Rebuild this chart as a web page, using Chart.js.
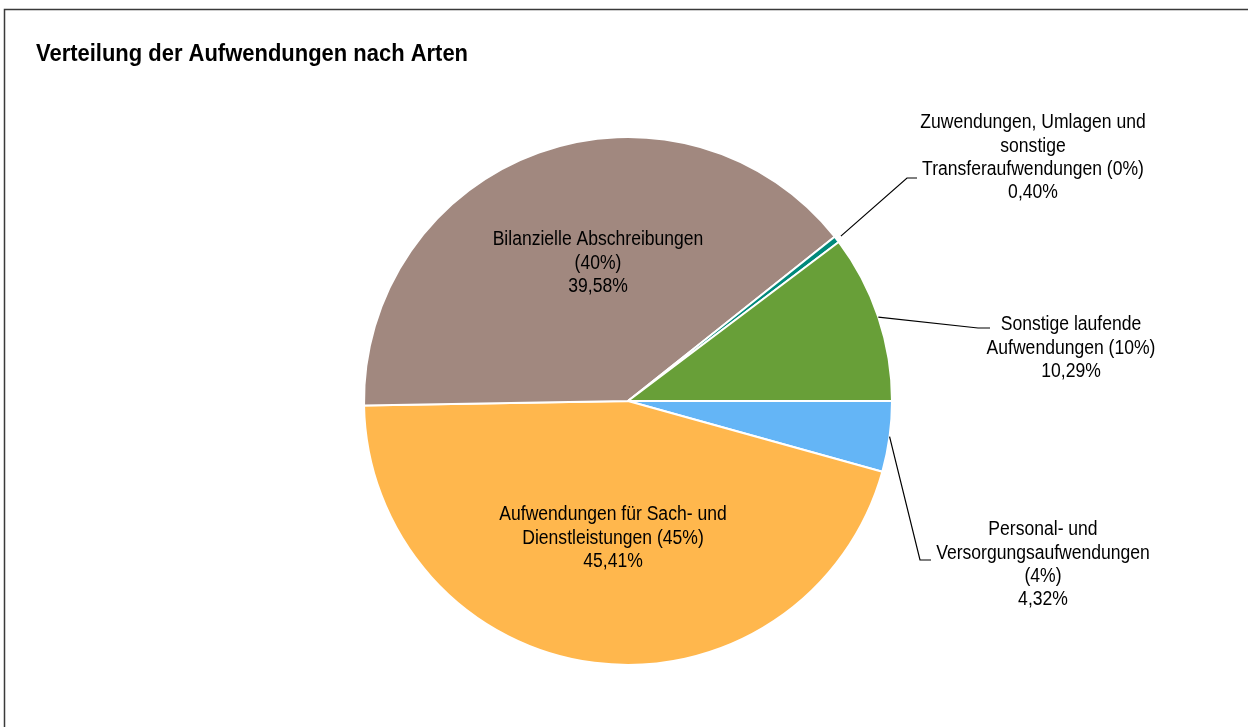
<!DOCTYPE html>
<html>
<head>
<meta charset="utf-8">
<script src="https://cdn.jsdelivr.net/npm/chart.js@4/dist/chart.umd.min.js"></script>
<style>
  html, body { margin: 0; padding: 0; background: #fff; }
  #wrap { position: relative; width: 1248px; height: 727px; }
</style>
</head>
<body>
<div id="wrap"><canvas id="aufwand"></canvas></div>
<script>
// Aufwandsarten, im Uhrzeigersinn ab 3 Uhr
var categories = [
  'Personal- und Versorgungsaufwendungen',
  'Aufwendungen für Sach- und Dienstleistungen',
  'Bilanzielle Abschreibungen',
  'Zuwendungen, Umlagen und sonstige Transferaufwendungen',
  'Sonstige laufende Aufwendungen'
];
var shares = [4.32, 45.41, 39.58, 0.40, 10.29];
var colors = ['#64B5F6', '#FFB74D', '#A1887F', '#00897B', '#689F38'];

// Beschriftungen: Zeilen je Segment, wie im Bericht umbrochen
var labelLines = [
  ['Personal- und', 'Versorgungsaufwendungen', '(4%)'],
  ['Aufwendungen für Sach- und', 'Dienstleistungen (45%)'],
  ['Bilanzielle Abschreibungen', '(40%)'],
  ['Zuwendungen, Umlagen und', 'sonstige', 'Transferaufwendungen (0%)'],
  ['Sonstige laufende', 'Aufwendungen (10%)']
];

function fmt(v) {
  return v.toFixed(2).replace('.', ',') + '%';
}

// Platzierung der Texte: inside = im Segment, sonst außen mit Führungslinie
var labelPos = [
  { x: 1043, y: 530, line: [[1.00, 0], [920, 560], [931, 560]] },
  { x: 613, y: 515, inside: true },
  { x: 598, y: 240, inside: true },
  { x: 1033, y: 123, line: [[1.02, 0], [907, 178], [917, 178]] },
  { x: 1071, y: 325, line: [[1.00, 0], [978, 328], [990, 328]] }
];

// etwas schmalere, höhere Schrift wie im Bericht
var FONT = '19.5px "Liberation Sans", Arial, sans-serif';
var SQUEEZE = 0.9;
var LINE_H = 23.3;

function squeezedText(ctx, t, x, y, sx) {
  ctx.save();
  ctx.translate(x, y);
  ctx.scale(sx, 1);
  ctx.fillText(t, 0, 0);
  ctx.restore();
}

var labelPlugin = {
  id: 'labelPlugin',
  afterDraw: function(chart) {
    var ctx = chart.ctx;
    ctx.save();

    // Rahmen
    ctx.strokeStyle = '#3a3a3a';
    ctx.lineWidth = 1.5;
    ctx.strokeRect(4.5, 9.5, 1300, 800);

    // Titel
    ctx.fillStyle = '#000';
    ctx.font = 'bold 23px "Liberation Sans", Arial, sans-serif';
    ctx.textAlign = 'left';
    ctx.textBaseline = 'middle';
    squeezedText(ctx, 'Verteilung der Aufwendungen nach Arten', 36, 55, 0.955);

    var meta = chart.getDatasetMeta(0);
    ctx.font = FONT;
    ctx.textAlign = 'center';
    ctx.textBaseline = 'middle';

    meta.data.forEach(function(arc, i) {
      var p = labelPos[i];
      var lines = labelLines[i].concat([fmt(shares[i])]);

      if (p.line) {
        // Startpunkt auf dem Rand in der Segmentmitte
        var mid = (arc.startAngle + arc.endAngle) / 2;
        var r = arc.outerRadius * p.line[0][0];
        ctx.strokeStyle = '#000';
        ctx.lineWidth = 1.2;
        ctx.beginPath();
        ctx.moveTo(arc.x + Math.cos(mid) * r, arc.y + Math.sin(mid) * r);
        for (var k = 1; k < p.line.length; k++) {
          ctx.lineTo(p.line[k][0], p.line[k][1]);
        }
        ctx.stroke();
      }

      ctx.fillStyle = '#000';
      lines.forEach(function(t, j) {
        squeezedText(ctx, t, p.x, p.y + j * LINE_H, SQUEEZE);
      });
    });

    ctx.restore();
  }
};

new Chart(document.getElementById('aufwand'), {
  type: 'pie',
  data: {
    labels: categories,
    datasets: [{
      data: shares,
      backgroundColor: colors,
      borderColor: '#ffffff',
      borderWidth: 2
    }]
  },
  options: {
    responsive: true,
    maintainAspectRatio: false,
    animation: false,
    rotation: 90,
    layout: {
      padding: { left: 363, right: 355, top: 136, bottom: 61 }
    },
    plugins: {
      legend: { display: false },
      tooltip: { enabled: false },
      title: { display: false }
    }
  },
  plugins: [labelPlugin]
});
</script>
</body>
</html>
